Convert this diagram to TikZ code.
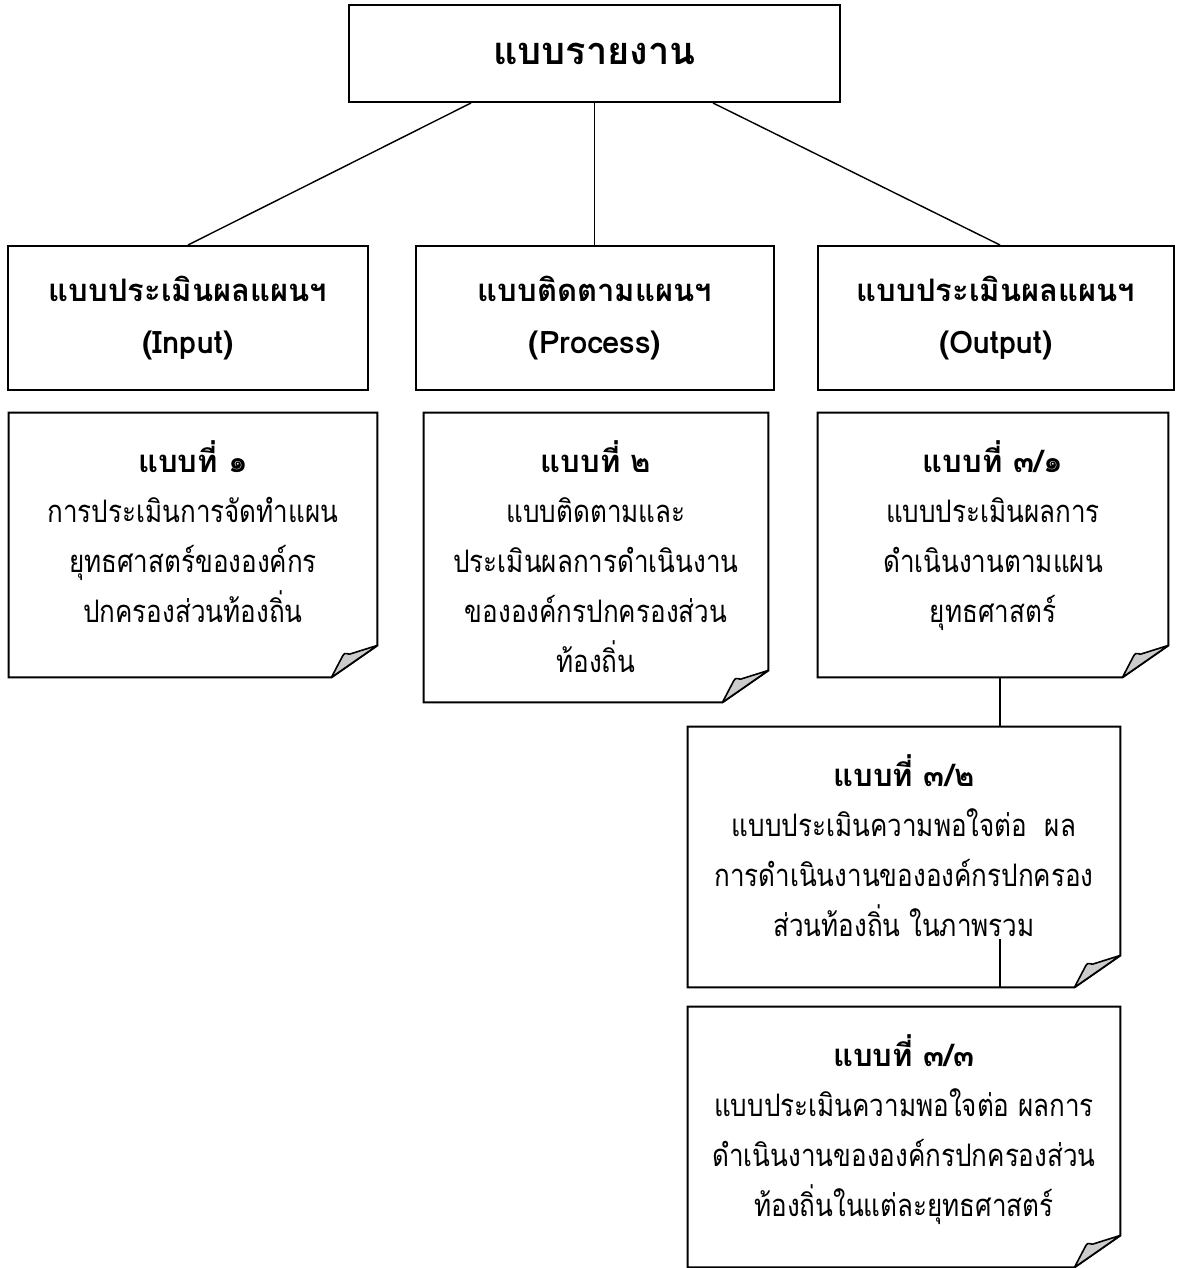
\documentclass[tikz,border=0pt]{standalone}
\usepackage{fontspec}
\setmainfont[Script=Thai]{Loma}
\newfontfamily\formfont[Script=Thai, FakeStretch=0.84]{Loma}
\newcommand\formtitle[1]{{\normalfont\bfseries #1}}
\usetikzlibrary{positioning}
\tikzset{
  boxline/.style  = {draw, line width=1pt},
  topbox/.style   = {boxline, rectangle, minimum width=245.5pt, minimum height=48.5pt,
                     font=\fontsize{19}{24}\selectfont\bfseries},
  groupbox/.style = {boxline, rectangle, minimum height=72pt, align=center,
                     font=\fontsize{15.5}{26}\selectfont\bfseries},
  formbox/.style  = {rectangle, inner sep=0pt},
  formtext/.style = {align=center, inner sep=0pt, font=\fontsize{15.5}{25}\selectfont\formfont},
  curl/.style     = {fill=gray!40, draw, line width=0.8pt, line join=round},
  link/.style     = {draw, line width=0.7pt}
}

\begin{document}
\begin{tikzpicture}[x=0.5pt, y=-0.5pt]
\fill[white] (0,0) rectangle (1179,1268);
\useasboundingbox (0,0) rectangle (1179,1268);

% root
\node[topbox] (root) at (594.5,53.5) {แบบรายงาน};

% the three groups
\node[groupbox, minimum width=180pt] (b1) at (188,318) {แบบประเมินผลแผนฯ\\(Input)};
\node[groupbox, minimum width=179pt] (b2) at (595,318) {แบบติดตามแผนฯ\\(Process)};
\node[groupbox, minimum width=178pt] (b3) at (996,318) {แบบประเมินผลแผนฯ\\(Output)};

% the forms, as bare frames
\node[formbox, minimum width=184pt, minimum height=132pt]   (f1)  at (193,545) {};
\node[formbox, minimum width=172pt, minimum height=144.5pt] (f2)  at (596,557.5) {};
\node[formbox, minimum width=175pt, minimum height=132pt]   (f31) at (993,545) {};
\node[formbox, minimum width=216pt, minimum height=130pt]   (f32) at (904,857) {};
\node[formbox, minimum width=216pt, minimum height=130pt]   (f33) at (904,1137) {};

% frames with a folded corner
\foreach \n in {f1,f2,f31,f32,f33}{
  \draw[boxline] (\n.north west) -- (\n.north east) -- ([yshift=16pt]\n.south east)
    -- ([xshift=-23pt]\n.south east) -- (\n.south west) -- cycle;
  \filldraw[curl] ([xshift=-23pt]\n.south east) -- ([xshift=-17.5pt,yshift=10.5pt]\n.south east)
    .. controls ([xshift=-16.5pt,yshift=12.2pt]\n.south east) .. ([xshift=-14pt,yshift=11.6pt]\n.south east)
    -- ([yshift=16pt]\n.south east) -- cycle;
}

% texts of the forms
\node[formtext, below=14pt of f1.north]  (t1)  {\formtitle{แบบที่ ๑}\\การประเมินการจัดทำแผน\\ยุทธศาสตร์ขององค์กร\\ปกครองส่วนท้องถิ่น};
\node[formtext, below=14pt of f2.north]  (t2)  {\formtitle{แบบที่ ๒}\\แบบติดตามและ\\ประเมินผลการดำเนินงาน\\ขององค์กรปกครองส่วน\\ท้องถิ่น};
\node[formtext, below=14pt of f31.north] (t31) {\formtitle{แบบที่ ๓/๑}\\แบบประเมินผลการ\\ดำเนินงานตามแผน\\ยุทธศาสตร์};
\node[formtext, below=14pt of f32.north] (t32) {\formtitle{แบบที่ ๓/๒}\\แบบประเมินความพอใจต่อ\ \ ผล\\การดำเนินงานขององค์กรปกครอง\\ส่วนท้องถิ่น ในภาพรวม};
\node[formtext, below=14pt of f33.north] (t33) {\formtitle{แบบที่ ๓/๓}\\แบบประเมินความพอใจต่อ ผลการ\\ดำเนินงานขององค์กรปกครองส่วน\\ท้องถิ่นในแต่ละยุทธศาสตร์};

% lines from the root to the groups
\draw[link] ([xshift=-61.75pt]root.south) -- (b1.north);
\draw[link] (root.south) -- (root.south |- b2.north);
\draw[link] ([xshift=59.25pt]root.south) -- ([xshift=2pt]b3.north);

% lines between the output forms
\draw[link] ([xshift=3.5pt]f31.south) -- ([xshift=3.5pt]f31.south |- f32.north);
\draw[link] ([xshift=3.5pt]f31.south |- f32.south) -- ++(0,24pt);
\end{tikzpicture}
\end{document}
